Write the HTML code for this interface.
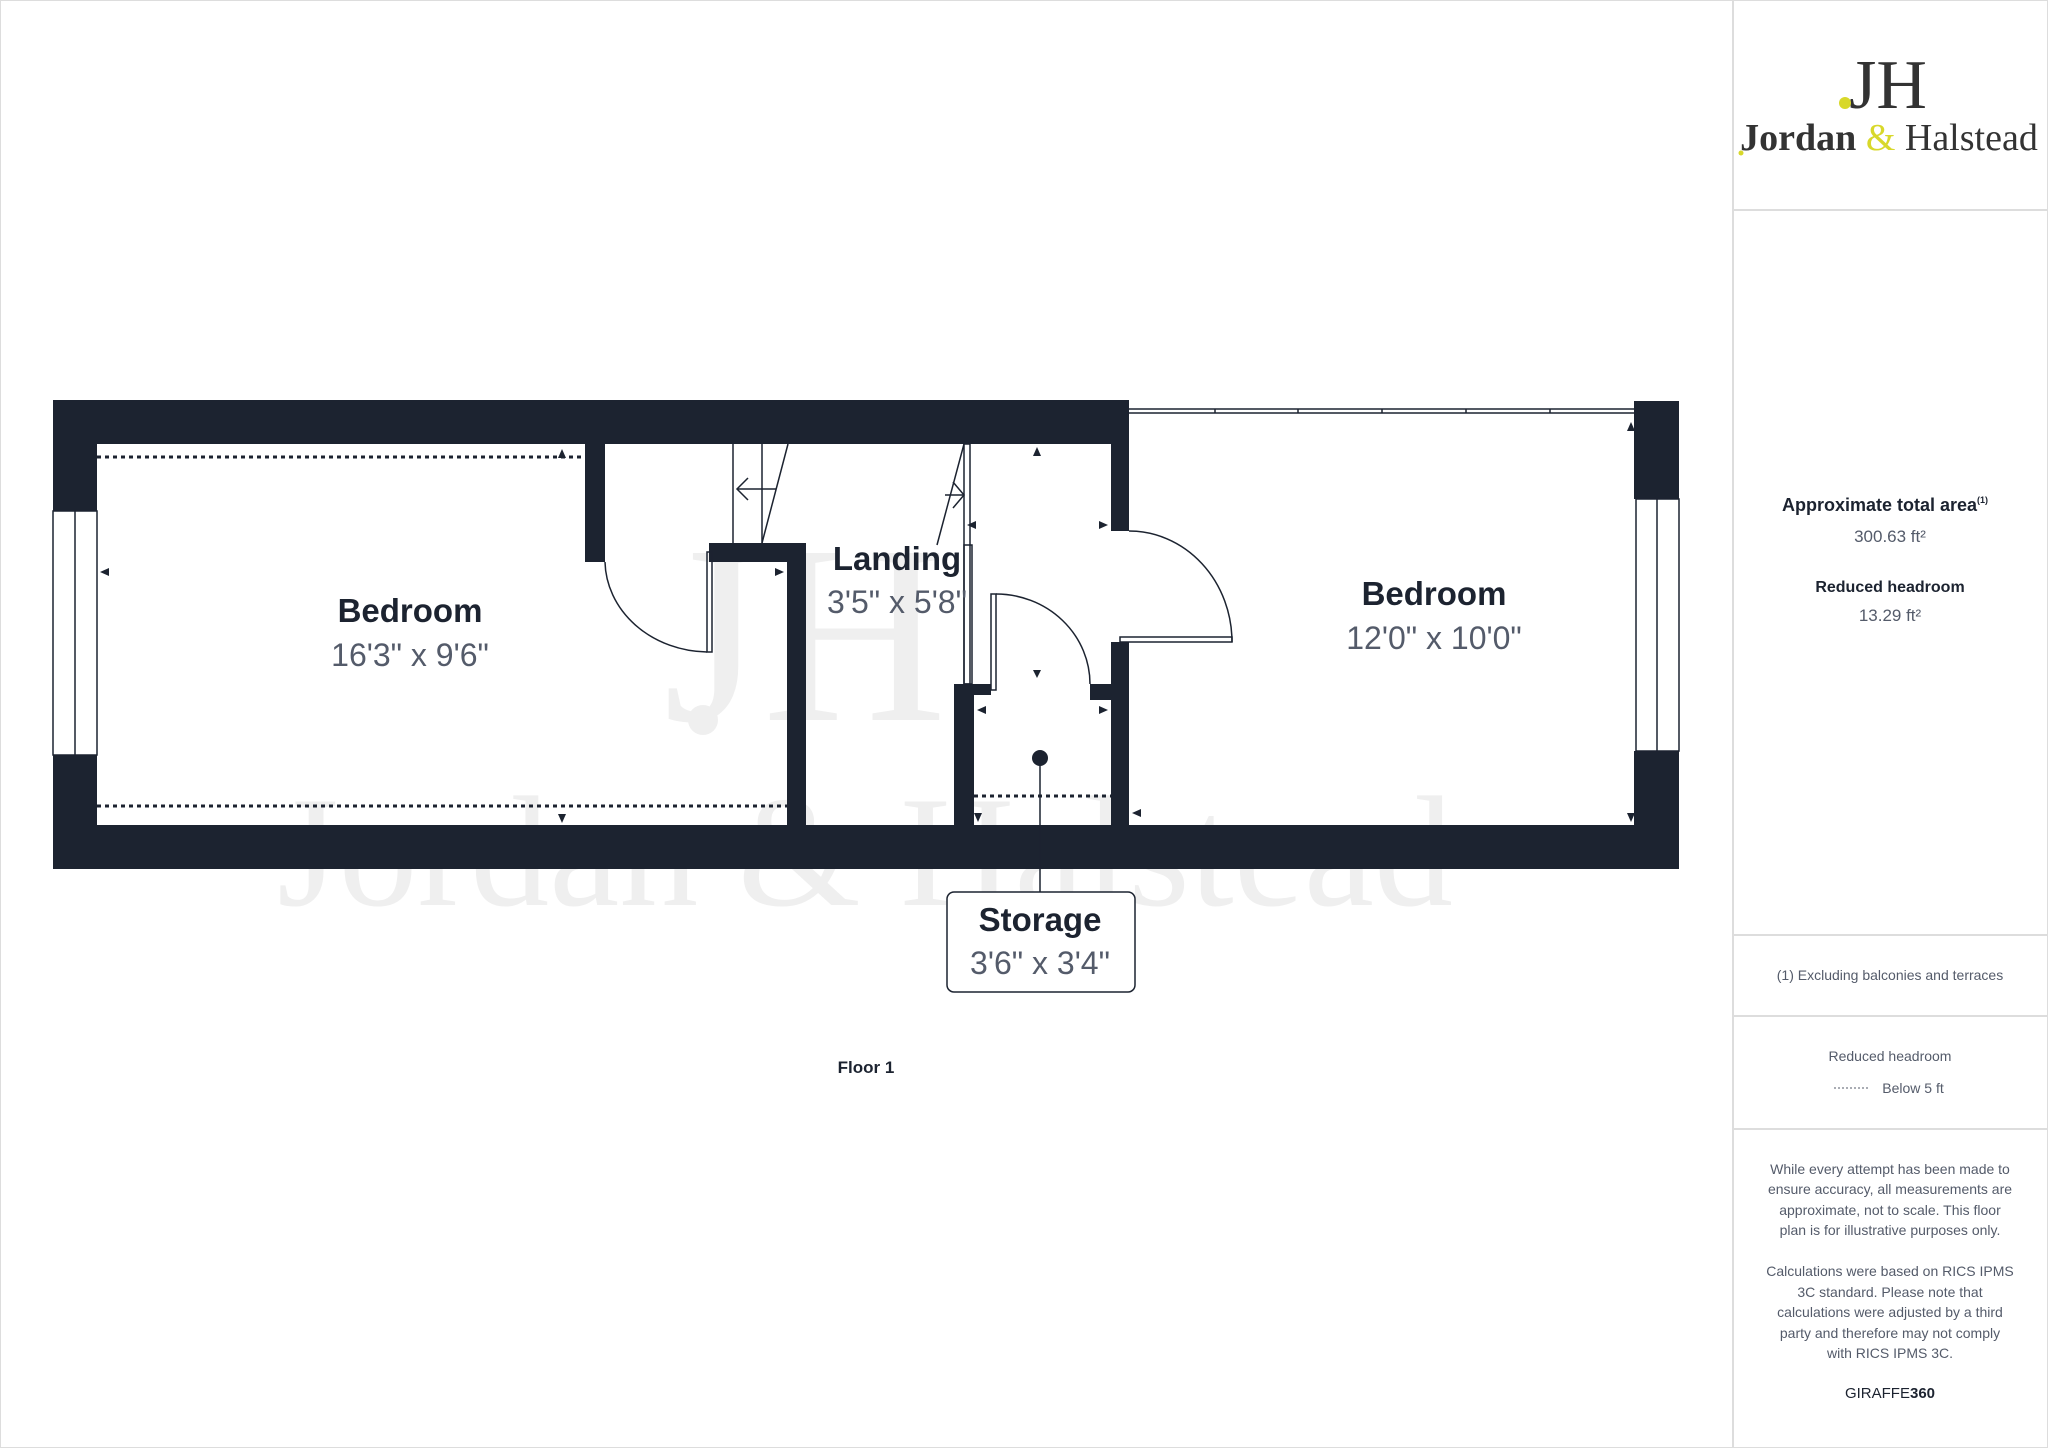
<!DOCTYPE html>
<html><head><meta charset="utf-8"><style>
html,body{margin:0;padding:0;background:#fff}
body{width:2048px;height:1448px;overflow:hidden;position:relative;font-family:"Liberation Sans",sans-serif}
</style></head><body>
<svg width="2048" height="1448" viewBox="0 0 2048 1448" xmlns="http://www.w3.org/2000/svg" style="position:absolute;left:0;top:0">
<rect x="0.5" y="0.5" width="2047" height="1447" fill="none" stroke="#ddd"/>
<g fill="#efefef" font-family="Liberation Serif,serif">
<text x="805" y="720" font-size="255" text-anchor="middle">JH</text>
<circle cx="703" cy="720" r="15"/>
<text x="865" y="905" font-size="158" text-anchor="middle">Jordan &amp; Halstead</text>
</g>
<g fill="#1c2330">
<rect x="53" y="400" width="1076" height="44"/>
<rect x="53" y="400" width="44" height="111"/>
<rect x="53" y="755" width="44" height="114"/>
<rect x="53" y="825" width="1626" height="44"/>
<rect x="1111" y="400" width="18" height="131"/>
<rect x="1111" y="642" width="18" height="200"/>
<rect x="1634" y="401" width="45" height="98"/>
<rect x="1634" y="751" width="45" height="118"/>
<rect x="585" y="444" width="20" height="118"/>
<rect x="787" y="543" width="19" height="290"/>
<rect x="709" y="543" width="97" height="19"/>
<rect x="954" y="684" width="20" height="150"/>
<rect x="954" y="684" width="37" height="11"/>
<rect x="1090" y="684" width="21" height="16"/>
<circle cx="1040" cy="758" r="8"/>
</g>
<g fill="none" stroke="#1c2330" stroke-width="1.5">
<rect x="53" y="511" width="44" height="244"/><line x1="75" y1="511" x2="75" y2="755"/>
<rect x="1636" y="499" width="43" height="252"/><line x1="1657" y1="499" x2="1657" y2="751"/>
<line x1="1129" y1="409" x2="1634" y2="409"/><line x1="1129" y1="413" x2="1634" y2="413"/>
<line x1="1215" y1="409" x2="1215" y2="413"/><line x1="1298" y1="409" x2="1298" y2="413"/><line x1="1382" y1="409" x2="1382" y2="413"/><line x1="1466" y1="409" x2="1466" y2="413"/><line x1="1550" y1="409" x2="1550" y2="413"/>
<rect x="707" y="552" width="5" height="100"/>
<path d="M605 562 A104 92 0 0 0 707 652"/>
<rect x="1120" y="637" width="112" height="5"/>
<path d="M1129 531 A103 111 0 0 1 1232 642"/>
<rect x="991" y="594" width="5" height="96"/>
<path d="M996 594 A94 90 0 0 1 1090 684"/>
<line x1="733" y1="444" x2="733" y2="543"/><line x1="762" y1="444" x2="762" y2="543"/>
<line x1="788" y1="444" x2="762" y2="543"/>
<line x1="737" y1="489" x2="776" y2="489"/><path d="M748 478 L737 489 L748 500"/>
<rect x="964" y="444" width="6" height="240"/><rect x="964" y="545" width="8" height="139"/>
<line x1="964" y1="444" x2="937" y2="545"/>
<line x1="945" y1="495" x2="964" y2="495"/><path d="M953 482 L964 495 L953 508"/>
<line x1="1040" y1="758" x2="1040" y2="892"/>
</g>
<g stroke="#1c2330" stroke-width="3" stroke-dasharray="4 4">
<line x1="97" y1="457" x2="585" y2="457"/>
<line x1="97" y1="806" x2="787" y2="806"/>
<line x1="974" y1="796" x2="1111" y2="796"/>
</g>
<g fill="#1c2330">
<path d="M562 449 l-4 9 h8z"/><path d="M562 823 l-4 -9 h8z"/>
<path d="M100 572 l9 -4 v8z"/><path d="M784 572 l-9 -4 v8z"/>
<path d="M1037 447 l-4 9 h8z"/><path d="M1037 678 l-4 -8 h8z"/>
<path d="M967 525 l9 -4 v8z"/><path d="M1108 525 l-9 -4 v8z"/>
<path d="M977 710 l9 -4 v8z"/><path d="M1108 710 l-9 -4 v8z"/>
<path d="M978 822 l-4 -9 h8z"/><path d="M1132 813 l9 -4 v8z"/>
<path d="M1631 422 l-4 9 h8z"/><path d="M1631 822 l-4 -9 h8z"/>
</g>
<g text-anchor="middle" font-family="Liberation Sans,sans-serif">
<text x="410" y="622" font-size="33" font-weight="bold" fill="#1c2330">Bedroom</text>
<text x="410" y="666" font-size="32" fill="#545b6a">16'3" x 9'6"</text>
<text x="897" y="570" font-size="33" font-weight="bold" fill="#1c2330">Landing</text>
<text x="897" y="613" font-size="32" fill="#545b6a">3'5" x 5'8"</text>
<text x="1434" y="605" font-size="33" font-weight="bold" fill="#1c2330">Bedroom</text>
<text x="1434" y="649" font-size="32" fill="#545b6a">12'0" x 10'0"</text>
</g>
<rect x="947" y="892" width="188" height="100" rx="7" fill="#fff" stroke="#1c2330" stroke-width="1.5"/>
<g text-anchor="middle">
<text x="1040" y="931" font-size="33" font-weight="bold" fill="#1c2330">Storage</text>
<text x="1040" y="974" font-size="32" fill="#545b6a">3'6" x 3'4"</text>
<text x="866" y="1073" font-size="17" font-weight="bold" fill="#1c2330">Floor 1</text>
</g>
<g stroke="#ddd" stroke-width="2">
<line x1="1733" y1="0" x2="1733" y2="1448"/>
<line x1="1733" y1="210" x2="2048" y2="210"/>
<line x1="1733" y1="935" x2="2048" y2="935"/>
<line x1="1733" y1="1016" x2="2048" y2="1016"/>
<line x1="1733" y1="1129" x2="2048" y2="1129"/>
</g>
<g font-family="Liberation Serif,serif" fill="#333">
<text x="1888" y="108" font-size="70" text-anchor="middle">JH</text>
<circle cx="1845" cy="103" r="6" fill="#d8d82a"/>
<text x="1889" y="150" font-size="38" text-anchor="middle"><tspan font-weight="bold">Jordan</tspan> <tspan fill="#d8d82a">&amp;</tspan> Halstead</text>
<circle cx="1741" cy="153" r="2.5" fill="#d8d82a"/>
</g>
<g text-anchor="middle" font-family="Liberation Sans,sans-serif">
<text x="1885" y="511" font-size="18" font-weight="bold" fill="#1c2330">Approximate total area<tspan font-size="9" dy="-8">(1)</tspan></text>
<text x="1890" y="542" font-size="17" fill="#545b6a">300.63 ft²</text>
<text x="1890" y="592" font-size="16" font-weight="bold" fill="#1c2330">Reduced headroom</text>
<text x="1890" y="621" font-size="17" fill="#545b6a">13.29 ft²</text>
<g font-size="14" fill="#545b6a">
<text x="1890" y="980">(1) Excluding balconies and terraces</text>
<text x="1890" y="1061">Reduced headroom</text>
<text x="1913" y="1093">Below 5 ft</text>
<text x="1890" y="1174">While every attempt has been made to</text>
<text x="1890" y="1194">ensure accuracy, all measurements are</text>
<text x="1890" y="1215">approximate, not to scale. This floor</text>
<text x="1890" y="1235">plan is for illustrative purposes only.</text>
<text x="1890" y="1276">Calculations were based on RICS IPMS</text>
<text x="1890" y="1297">3C standard. Please note that</text>
<text x="1890" y="1317">calculations were adjusted by a third</text>
<text x="1890" y="1338">party and therefore may not comply</text>
<text x="1890" y="1358">with RICS IPMS 3C.</text>
</g>
<text x="1890" y="1398" font-size="15" fill="#1c2330">GIRAFFE<tspan font-weight="bold">360</tspan></text>
</g>
<line x1="1834" y1="1088" x2="1870" y2="1088" stroke="#545b6a" stroke-width="1" stroke-dasharray="2 2"/>
</svg>
</body></html>
